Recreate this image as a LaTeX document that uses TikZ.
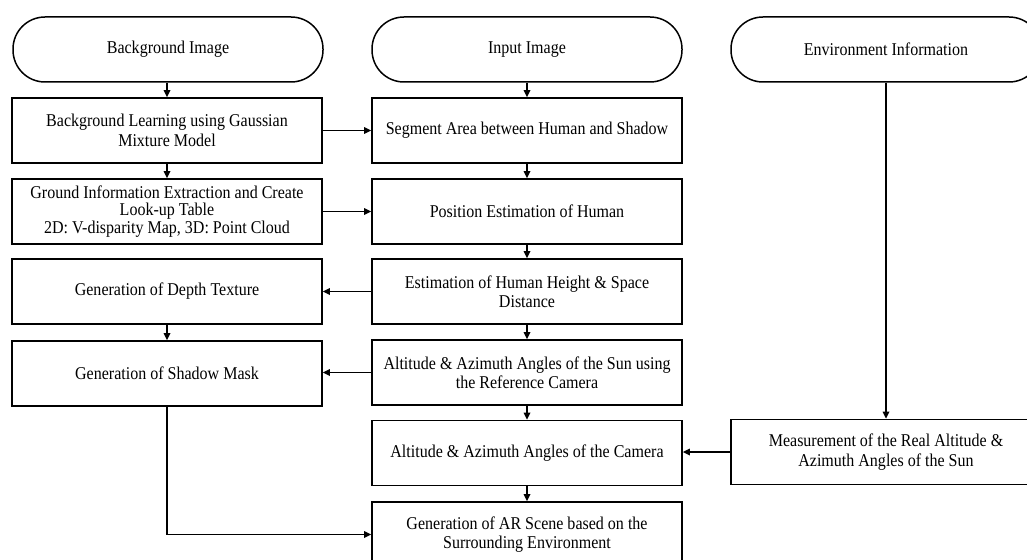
\documentclass[tikz,border=0pt]{standalone}
\usepackage{fontspec}
\setmainfont{Liberation Serif}[FakeStretch=0.89]
\usetikzlibrary{arrows.meta}
\begin{document}
\begin{tikzpicture}[x=1pt,y=-1pt,
  every node/.style={font=\fontsize{18}{19.5}\selectfont, align=center, inner sep=0pt},
  tight/.style={font=\fontsize{18}{17.5}\selectfont},
  procbox/.style={draw, line width=1.7pt, minimum width=310pt, minimum height=65pt},
  termbox/.style={draw, line width=1.5pt, rounded corners=32pt, minimum width=310pt, minimum height=65pt},
  flow/.style={line width=1.6pt, -{Triangle[length=7pt,width=6.5pt]}}
]
\useasboundingbox (0,0) rectangle (1027,559);
\clip (0,0) rectangle (1027,559);
% terminators
\node[termbox] (tl) at (168,49.5) {Background Image};
\node[termbox] (tm) at (527,49.5) {Input Image};
\node[termbox] (tr) at (886,49.5) {Environment Information};
% left column
\node[procbox] (b1) at (167,130.5) {Background Learning using Gaussian\\Mixture Model};
\node[procbox, tight] (b2) at (167,211.5) {Ground Information Extraction and Create\\Look-up Table\\2D: V-disparity Map, 3D: Point Cloud};
\node[procbox] (b3) at (167,291.5) {Generation of Depth Texture};
\node[procbox] (b4) at (167,373.5) {Generation of Shadow Mask};
% middle column
\node[procbox] (m1) at (527,130.5) {Segment Area between Human and Shadow};
\node[procbox] (m2) at (527,211.5) {Position Estimation of Human};
\node[procbox] (m3) at (527,291.5) {Estimation of Human Height \& Space\\Distance};
\node[procbox] (m4) at (527,372.5) {Altitude \& Azimuth Angles of the Sun using\\the Reference Camera};
\node[procbox] (m5) at (527,453) {Altitude \& Azimuth Angles of the Camera};
\node[procbox] (m6) at (527,534.5) {Generation of AR Scene based on the\\Surrounding Environment};
% right column
\node[procbox] (r) at (886,452) {Measurement of the Real Altitude \&\\Azimuth Angles of the Sun};
% vertical arrows
\draw[flow] (tl.south -| b1.north) -- (b1.north);
\draw[flow] (b1) -- (b2);
\draw[flow] (b3) -- (b4);
\draw[flow] (tm) -- (m1);
\draw[flow] (m1) -- (m2);
\draw[flow] (m2) -- (m3);
\draw[flow] (m3) -- (m4);
\draw[flow] (m4) -- (m5);
\draw[flow] (m5) -- (m6);
\draw[flow] (tr) -- (r);
% horizontal arrows
\draw[flow] (b1) -- (m1);
\draw[flow] (b2) -- (m2);
\draw[flow] (m3) -- (b3);
\draw[flow] (m4.west) -- (b4.east |- m4.west);
\draw[flow] (r.west) -- (m5.east |- r.west);
% elbow
\draw[flow] (b4.south) |- (m6.west);
\end{tikzpicture}
\end{document}
